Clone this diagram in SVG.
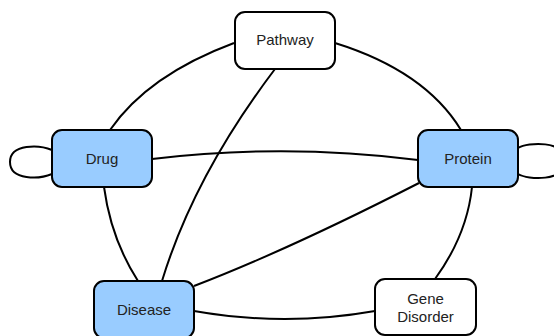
<svg xmlns="http://www.w3.org/2000/svg" width="554" height="336" viewBox="0 0 554 336">
<style>
.edge{fill:none;stroke:#000;stroke-width:2}
.node rect{stroke:#000;stroke-width:2}
.blue rect{fill:#99ccff}
.white rect{fill:#fff}
.node text{font-family:"Liberation Sans",Arial,sans-serif;font-size:15px;fill:#222;text-anchor:middle}
</style>
<rect width="554" height="336" fill="#fff"/>
<g id="connectors">
<path class="edge" d="M52,150 C40,145 10,143 10,162 C10,181 40,179 52,174"/>
<path class="edge" d="M518,148 C528,142 565,140 565,161 C565,182 528,180 518,174"/>
<path class="edge" d="M234,43 Q148,75 110,130"/>
<path class="edge" d="M335,43 Q425,71 461,130"/>
<path class="edge" d="M275,69 Q194,176 162,281"/>
<path class="edge" d="M152,159 Q285,143 418,160"/>
<path class="edge" d="M104,187 Q111,239 138,281"/>
<path class="edge" d="M419,183 Q288,250 194,286"/>
<path class="edge" d="M472,187 Q467,235 435,279"/>
<path class="edge" d="M194,311 Q285,327 375,311"/>
</g>
<g id="pathway" class="node white"><rect x="235" y="12" width="100" height="57" rx="10"/><text x="285" y="45">Pathway</text></g>
<g id="drug" class="node blue"><rect x="52" y="130" width="100" height="57" rx="10"/><text x="102" y="164">Drug</text></g>
<g id="protein" class="node blue"><rect x="418" y="130" width="100" height="57" rx="10"/><text x="468" y="164">Protein</text></g>
<g id="disease" class="node blue"><rect x="94" y="281" width="100" height="57" rx="10"/><text x="144" y="315">Disease</text></g>
<g id="gene-disorder" class="node white"><rect x="375" y="279" width="101" height="56" rx="10"/><text x="425.5" y="304">Gene</text><text x="425.5" y="322">Disorder</text></g>
</svg>
